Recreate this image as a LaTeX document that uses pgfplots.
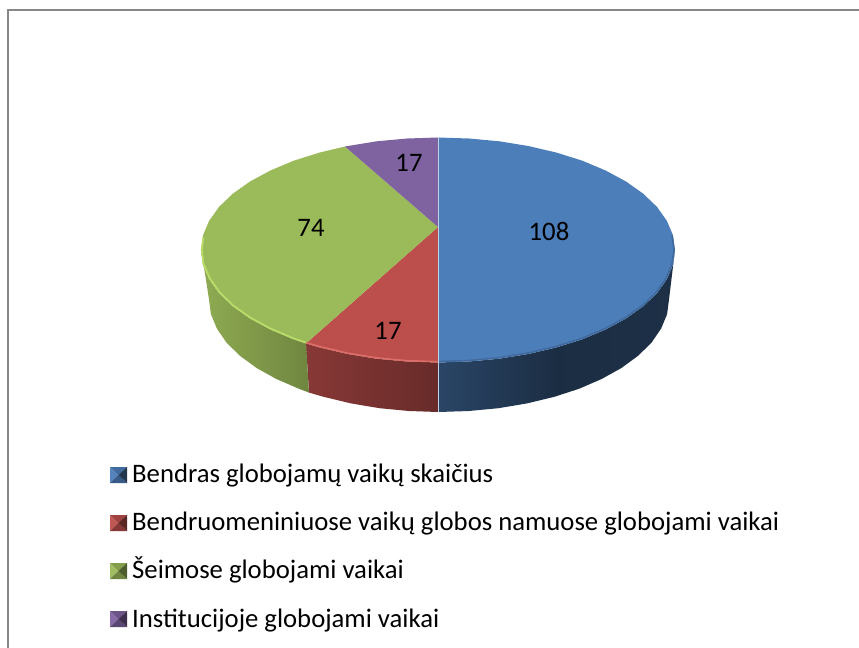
\documentclass[border=0pt]{standalone}
\usepackage{fontspec}
\setmainfont{Carlito}
\usepackage{pgfplots}
\pgfplotsset{compat=1.18}
\definecolor{blu}{HTML}{4C7EBA}
\definecolor{rd}{HTML}{BC4E4B}
\definecolor{grn}{HTML}{9BBA59}
\definecolor{pur}{HTML}{7F62A0}
\definecolor{grnrim}{HTML}{B9DB68}
\definecolor{rdrim}{HTML}{DC6E69}
\newcommand{\lab}{\fontsize{26.8}{30}\selectfont}
\begin{document}
\begin{tikzpicture}
\begin{axis}[
  scale only axis, width=859bp, height=648bp,
  xmin=0, xmax=859, ymin=0, ymax=648, y dir=reverse,
  hide axis, clip=true,
  every axis plot/.append style={no markers, forget plot},
]
% page extent
\addplot[draw=none] coordinates {(0,0)(859,648)};
% frame
\addplot[draw=black!47, line width=2.2bp] coordinates {(859,10) (8,10) (8,648)};
% side walls
\addplot[draw=none, left color=black!5!blu!58!black, right color=blu!38!black, middle color=blu!36!black]
 coordinates {(438,362.5)(468.9,361.5)(499.3,358.7)(528.7,353.9)(556.5,347.4)(582.3,339.3)(605.6,329.5)(626,318.5)(643.2,306.3)(657,293.1)(666.9,279.1)(673,264.7)(675,250)(669,299.5)(667.1,314.2)(661.1,328.6)(651.5,342.6)(638.1,355.8)(621.4,368)(601.6,379)(579,388.8)(554,396.9)(527,403.4)(498.5,408.2)(469,411)(439,412)(438,412)} -- cycle;
\addplot[draw=none, left color=rd!72!black, right color=rd!55!black]
 coordinates {(438,362.5)(407.1,361.5)(376.7,358.7)(347.3,353.9)(319.5,347.4)(306,343.4)(309,392.6)(324,396.9)(351,403.4)(379.5,408.2)(409,411)(438,412)} -- cycle;
\addplot[draw=none, left color=grn!92!black, right color=grn!72!black]
 coordinates {(306,343.4)(293.7,339.3)(270.4,329.5)(250,318.5)(232.8,306.3)(219,293.1)(209.1,279.1)(203,264.7)(201,250)(203,262)(206,280)(209,299.5)(210.9,314.2)(216.9,328.6)(226.5,342.6)(239.9,355.8)(256.6,368)(276.4,379)(299,388.8)(309,392.6)} -- cycle;
% top slices
\addplot[draw=none, fill=blu]
 coordinates {(438,137.5)(468.9,138.5)(499.3,141.3)(528.7,146.1)(556.5,152.6)(582.3,160.7)(605.6,170.5)(626,181.5)(643.2,193.7)(657,206.9)(666.9,220.9)(673,235.3)(675,250)(673,264.7)(666.9,279.1)(657,293.1)(643.2,306.3)(626,318.5)(605.6,329.5)(582.3,339.3)(556.5,347.4)(528.7,353.9)(499.3,358.7)(468.9,361.5)(438,362.5)} -- cycle;
\addplot[draw=none, fill=rd]
 coordinates {(438,227)(438,362.5)(407.1,361.5)(376.7,358.7)(347.3,353.9)(319.5,347.4)(306,343.4)} -- cycle;
\addplot[draw=none, fill=grn]
 coordinates {(438,227)(306,343.4)(293.7,339.3)(270.4,329.5)(250,318.5)(232.8,306.3)(219,293.1)(209.1,279.1)(203,264.7)(201,250)(203,235.3)(209.1,220.9)(219,206.9)(232.8,193.7)(250,181.5)(270.4,170.5)(293.7,160.7)(319.5,152.6)(345,146.5)} -- cycle;
\addplot[draw=none, fill=pur]
 coordinates {(438,227)(345,146.5)(347.3,146.1)(376.7,141.3)(407.1,138.5)(438,137.5)} -- cycle;
% rim highlights
\addplot[draw=blu!85!black, line width=1.6bp]
 coordinates {(672,235.3)(674,250)(672,264)(666,278.5)(656,292.5)(642.5,305.5)(625.5,317.5)(605,328.5)(582,338.3)(556,346.4)(528.5,352.9)(499,357.7)(468.9,360.5)(438,361.5)};
\addplot[draw=rdrim, line width=1.6bp]
 coordinates {(438,361.7)(407.1,360.7)(376.7,357.9)(347.3,353.1)(319.5,346.6)(306,342.6)};
\addplot[draw=grnrim, line width=1.8bp]
 coordinates {(306,342.6)(293.9,338.5)(270.7,328.7)(250.4,317.7)(233.2,305.5)(219.6,292.3)(209.8,278.4)(203.6,264)(201.8,250)(203.3,238)};
% slice seam
\addplot[draw=blu!35!white, line width=0.7bp] coordinates {(438,137.5)(438,412)};
% legend swatches
\addplot[draw=none, fill=blu!95!white] coordinates {(110,467)(118.5,475)(110,483)} -- cycle;
\addplot[draw=none, fill=blu!85!black] coordinates {(110,467)(127,467)(118.5,475)} -- cycle;
\addplot[draw=none, fill=blu!72!black] coordinates {(110,483)(127,483)(118.5,475)} -- cycle;
\addplot[draw=none, fill=blu!42!black] coordinates {(127,467)(127,483)(118.5,475)} -- cycle;
\addplot[draw=none, fill=rd!95!white] coordinates {(110,515)(118.5,523)(110,531)} -- cycle;
\addplot[draw=none, fill=rd!85!black] coordinates {(110,515)(127,515)(118.5,523)} -- cycle;
\addplot[draw=none, fill=rd!72!black] coordinates {(110,531)(127,531)(118.5,523)} -- cycle;
\addplot[draw=none, fill=rd!48!black] coordinates {(127,515)(127,531)(118.5,523)} -- cycle;
\addplot[draw=none, fill=grn!95!white] coordinates {(110,563)(118.5,571)(110,579)} -- cycle;
\addplot[draw=none, fill=grn!85!black] coordinates {(110,563)(127,563)(118.5,571)} -- cycle;
\addplot[draw=none, fill=grn!72!black] coordinates {(110,579)(127,579)(118.5,571)} -- cycle;
\addplot[draw=none, fill=grn!50!black] coordinates {(127,563)(127,579)(118.5,571)} -- cycle;
\addplot[draw=none, fill=pur!95!white] coordinates {(110,611)(118.5,619)(110,627)} -- cycle;
\addplot[draw=none, fill=pur!85!black] coordinates {(110,611)(127,611)(118.5,619)} -- cycle;
\addplot[draw=none, fill=pur!72!black] coordinates {(110,627)(127,627)(118.5,619)} -- cycle;
\addplot[draw=none, fill=pur!48!black] coordinates {(127,611)(127,627)(118.5,619)} -- cycle;
% value labels
\node[font=\lab] at (axis cs:549,231) {108};
\node[font=\lab] at (axis cs:388,331) {17};
\node[font=\lab] at (axis cs:311,228) {74};
\node[font=\lab] at (axis cs:409,163) {17};
% legend text
\node[anchor=base west, inner sep=0pt, font=\lab] at (axis cs:132,482) {Bendras globojamų vaikų skaičius};
\node[anchor=base west, inner sep=0pt, font=\lab] at (axis cs:132,530) {Bendruomeniniuose vaikų globos namuose globojami vaikai};
\node[anchor=base west, inner sep=0pt, font=\lab] at (axis cs:132,578) {Šeimose globojami vaikai};
\node[anchor=base west, inner sep=0pt, font=\lab] at (axis cs:132,627) {Institucijoje globojami vaikai};
\end{axis}
\end{tikzpicture}
\end{document}
